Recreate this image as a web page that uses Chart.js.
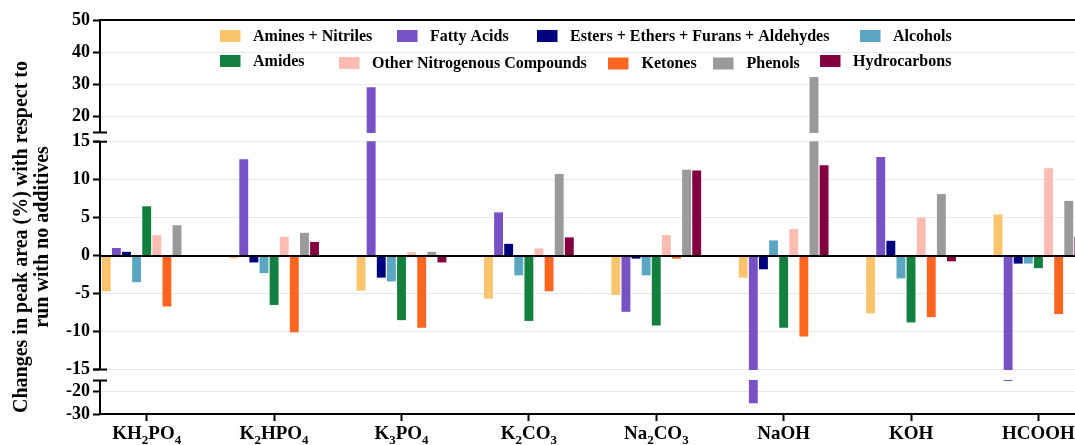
<!DOCTYPE html>
<html>
<head>
<meta charset="utf-8">
<script src="https://cdn.jsdelivr.net/npm/chart.js@4.4.1/dist/chart.umd.min.js"></script>
<style>
html,body{margin:0;padding:0;background:#fff;overflow:hidden}
canvas{display:block}
</style>
</head>
<body>
<canvas id="c" width="1075" height="445"></canvas>
<script>
// ---------------- DATA ----------------
const categories = ['KH2PO4', 'K2HPO4', 'K3PO4', 'K2CO3', 'Na2CO3', 'NaOH', 'KOH', 'HCOOH'];
const seriesNames = ['Amines + Nitriles', 'Fatty Acids', 'Esters + Ethers + Furans + Aldehydes', 'Alcohols',
  'Amides', 'Other Nitrogenous Compounds', 'Ketones', 'Phenols', 'Hydrocarbons'];
const aminesNitriles   = [-4.7, -0.35, -4.6, -5.65, -5.2, -2.9, -7.6, 5.4];
const fattyAcids       = [1.0, 12.7, 29.1, 5.7, -7.4, -25.2, 13.0, -15.2];
const estersEthersFuransAldehydes = [0.5, -0.9, -2.9, 1.55, -0.4, -1.8, 1.95, -1.05];
const alcohols         = [-3.5, -2.3, -3.4, -2.6, -2.6, 2.0, -3.0, -1.05];
const amides           = [6.5, -6.5, -8.5, -8.6, -9.2, -9.5, -8.8, -1.65];
const otherNitrogenous = [2.7, 2.5, 0.45, 0.95, 2.7, 3.5, 5.0, 11.5];
const ketones          = [-6.7, -10.1, -9.5, -4.7, -0.4, -10.65, -8.1, -7.7];
const phenols          = [4.0, 3.0, 0.5, 10.75, 11.3, 32.3, 8.1, 7.2];
const hydrocarbons     = [0, 1.8, -0.9, 2.4, 11.2, 11.9, -0.75, 2.5];
const yTickValues = [-30, -20, -15, -10, -5, 0, 5, 10, 15, 20, 30, 40, 50];
const yAxisTitle = ['Changes in peak area (%) with respect to', 'run with no additives'];

// ---------------- STYLE ----------------
const FONT = '"Liberation Serif", "Times New Roman", serif';
const seriesColors = ['#F9C46B', '#7752C4', '#00007F', '#5AA6C3', '#138040', '#FDBCB2', '#FD6621', '#9A9A9A', '#830040'];
const seriesValues = [aminesNitriles, fattyAcids, estersEthersFuransAldehydes, alcohols, amides,
  otherNitrogenous, ketones, phenols, hydrocarbons];

// broken value axis: value ranges and their share of the plot height (fractions from top)
const axisSegments = [
  {hi: 50, lo: 15, top: 0, bot: 0.2855},
  {hi: 15, lo: -15, top: 0.3089, bot: 0.8871},
  {hi: -15, lo: -30, top: 0.915, bot: 1}
];

class BrokenLinearScale extends Chart.LinearScale {
  getPixelForValue(v) {
    if (v === null || v === undefined || isNaN(v)) return NaN;
    const s = v > axisSegments[1].hi ? axisSegments[0] : (v >= axisSegments[1].lo ? axisSegments[1] : axisSegments[2]);
    const f = s.top + (s.hi - v) / (s.hi - s.lo) * (s.bot - s.top);
    return this.top + f * this.height;
  }
  getValueForPixel(p) {
    const f = (p - this.top) / this.height;
    for (const s of axisSegments) {
      if (f <= s.bot) {
        const ff = Math.max(f, s.top);
        return s.hi - (ff - s.top) / (s.bot - s.top) * (s.hi - s.lo);
      }
    }
    const s = axisSegments[2];
    return s.hi - (f - s.top) / (s.bot - s.top) * (s.hi - s.lo);
  }
}
BrokenLinearScale.id = 'brokenLinear';
BrokenLinearScale.defaults = Chart.LinearScale.defaults;
Chart.register(BrokenLinearScale);

// legend item placement: [swatchX, swatchY, textX]
const legendPlacement = [
  [220, 30, 253], [397, 30, 430], [537, 30, 570], [860, 30, 893],
  [220, 55, 253], [339, 57, 372], [608, 57.5, 641.5], [713, 57.5, 746.5], [820, 55, 853]
];

function line(ctx, x1, y1, x2, y2) {
  ctx.beginPath(); ctx.moveTo(x1, y1); ctx.lineTo(x2, y2); ctx.stroke();
}

const decorPlugin = {
  id: 'decor',
  afterDatasetsDraw(chart) {
    const {ctx, chartArea: ca, scales: {y}} = chart;
    const segs = axisSegments.map(s => ({top: ca.top + s.top * ca.height, bot: ca.top + s.bot * ca.height}));
    ctx.save();
    ctx.fillStyle = '#fff';
    for (let i = 0; i < segs.length - 1; i++) {
      ctx.fillRect(ca.left + 1, segs[i].bot + 0.5, ca.right - ca.left, segs[i + 1].top - segs[i].bot - 1);
    }
    ctx.strokeStyle = '#000';
    ctx.lineWidth = 2;
    const y0 = Math.round(y.getPixelForValue(0));
    line(ctx, ca.left, y0, ca.right, y0);
    line(ctx, ca.left, ca.top, ca.right, ca.top);
    segs.forEach(s => line(ctx, ca.left, s.top - (s.top === ca.top ? 1 : 0), ca.left, s.bot + (s.bot === ca.bottom ? 1 : 0)));
    for (let i = 0; i < segs.length - 1; i++) {
      line(ctx, ca.left - 7, segs[i].bot, ca.left + 7, segs[i].bot);
      line(ctx, ca.left - 7, segs[i + 1].top, ca.left + 7, segs[i + 1].top);
    }
    ctx.restore();
  },
  afterDraw(chart) {
    const {ctx, scales: {x}} = chart;
    ctx.save();
    // category labels with subscripts
    ctx.fillStyle = '#000';
    ctx.textBaseline = 'alphabetic';
    ctx.textAlign = 'left';
    const mainFont = 'bold 19px ' + FONT, subFont = 'bold 13px ' + FONT;
    categories.forEach((cat, i) => {
      const parts = cat.match(/\d+|\D+/g);
      let total = 0;
      const widths = parts.map(p => {
        ctx.font = /\d/.test(p) ? subFont : mainFont;
        const w = ctx.measureText(p).width; total += w; return w;
      });
      let cx = x.getPixelForValue(i) - total / 2;
      parts.forEach((p, k) => {
        const sub = /\d/.test(p);
        ctx.font = sub ? subFont : mainFont;
        ctx.fillText(p, cx, sub ? 443.5 : 438.5);
        cx += widths[k];
      });
    });
    // legend
    ctx.font = 'bold 16px ' + FONT;
    ctx.textBaseline = 'middle';
    chart.data.datasets.forEach((ds, k) => {
      const [sx, sy, tx] = legendPlacement[k];
      ctx.fillStyle = ds.backgroundColor;
      ctx.fillRect(sx, sy, 20.5, 12);
      ctx.fillStyle = '#000';
      ctx.fillText(ds.label, tx, sy + 6.5);
    });
    // y-axis title
    ctx.font = 'bold 20px ' + FONT;
    ctx.textAlign = 'center';
    ctx.textBaseline = 'alphabetic';
    [[yAxisTitle[0], 27], [yAxisTitle[1], 48]].forEach(([t, bx]) => {
      ctx.save();
      ctx.translate(bx, 237);
      ctx.rotate(-Math.PI / 2);
      ctx.fillText(t, 0, 0);
      ctx.restore();
    });
    ctx.restore();
  }
};

new Chart(document.getElementById('c'), {
  type: 'bar',
  data: {
    labels: categories.map((c, i) => i),
    datasets: seriesNames.map((name, k) => ({
      label: name,
      data: seriesValues[k],
      backgroundColor: seriesColors[k],
      borderWidth: 0,
      categoryPercentage: 0.714,
      barPercentage: 0.88
    }))
  },
  options: {
    responsive: false,
    animation: false,
    devicePixelRatio: 1,
    layout: {padding: {top: 20, left: 0, right: 0, bottom: 0}},
    plugins: {legend: {display: false}, tooltip: {enabled: false}},
    scales: {
      x: {
        type: 'linear', min: -0.3666, max: 7.287, offset: false,
        afterBuildTicks: s => { s.ticks = categories.map((c, i) => ({value: i})); },
        afterFit: s => { s.height = 31; },
        ticks: {display: false, autoSkip: false},
        grid: {display: true, drawOnChartArea: false, drawTicks: true, tickLength: 7, tickColor: '#000', tickWidth: 2, offset: false},
        border: {display: true, color: '#000', width: 2}
      },
      y: {
        type: 'brokenLinear', min: -30, max: 50,
        afterBuildTicks: s => { s.ticks = yTickValues.map(v => ({value: v})); },
        afterFit: s => { s.width = 100; },
        ticks: {autoSkip: false, color: '#000', padding: 3, font: {family: FONT, size: 18, weight: 'bold'}, callback: v => String(v)},
        grid: {
          color: c => (c.tick && (c.tick.value === 0 || c.tick.value === 50)) ? 'rgba(0,0,0,0)' : '#e8e8e8',
          lineWidth: 1, tickLength: 7, tickColor: '#000', tickWidth: 2
        },
        border: {display: false}
      }
    }
  },
  plugins: [decorPlugin]
});
</script>
</body>
</html>
